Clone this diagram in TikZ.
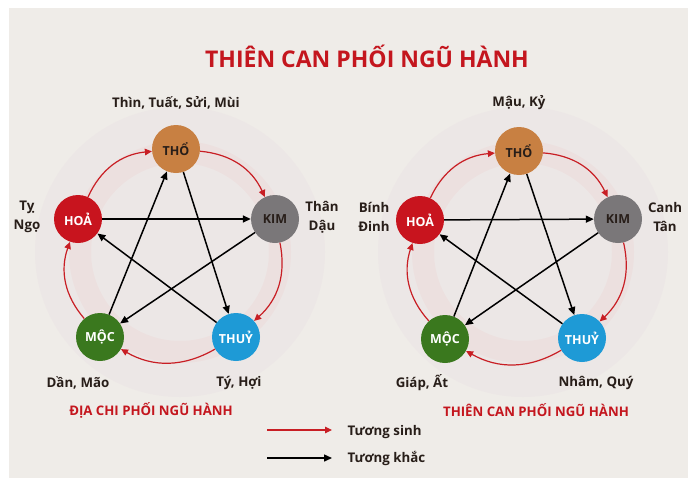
\documentclass[tikz,border=0pt]{standalone}
\usepackage{fontspec}
\setmainfont{Open Sans}
\usepackage{xcolor}
\definecolor{paper}{RGB}{239, 236, 232}
\definecolor{titlered}{RGB}{196, 22, 30}
\definecolor{arrowred}{RGB}{200, 30, 36}
\definecolor{earth}{RGB}{200, 128, 66}
\definecolor{fire}{RGB}{200, 20, 30}
\definecolor{metal}{RGB}{122, 119, 121}
\definecolor{wood}{RGB}{58, 120, 30}
\definecolor{water}{RGB}{30, 154, 214}
\definecolor{darktext}{RGB}{40, 30, 25}
\usepackage{tikz}
\usetikzlibrary{arrows.meta}
\tikzstyle{element} = [shape=circle, minimum size=48pt, inner sep=0pt, font=\fontsize{12.5}{14}\selectfont\bfseries]
\tikzstyle{branch} = [align=center, font=\fontsize{13.3}{19}\selectfont\bfseries, text=darktext]
\tikzstyle{caption} = [font=\fontsize{13.2}{15}\selectfont\bfseries, text=titlered]
\tikzstyle{sinh} = [draw=arrowred, line width=1.2pt, -{Triangle[length=7pt, width=6.5pt]}]
\tikzstyle{khac} = [draw=black, line width=1.5pt, -{Triangle[length=8pt, width=7pt]}]

\begin{document}
\begin{tikzpicture}[x=1pt, y=-1pt]
  \useasboundingbox (0,0) rectangle (700,487);
  \fill[white] (0,0) rectangle (700,487);
  \fill[paper] (9,8) rectangle (688,478);

  % faint watermark rings
  \foreach \cx in {180, 523} {
    \fill[violet!40, opacity=0.06] (\cx,252) circle (145);
    \draw[red!60, opacity=0.05, line width=22pt] (\cx,252) circle (100);
  }

  \node[font=\fontsize{23}{27}\selectfont\bfseries, text=titlered] (title) at (367,56) {THIÊN CAN PHỐI NGŨ HÀNH};

  % left: dia chi
  \node[element, fill=earth, text=darktext] (tho1) at (176,149) {THỔ};
  \node[element, fill=fire, text=white] (hoa1) at (78,219) {HOẢ};
  \node[element, fill=metal, text=darktext] (kim1) at (275,219) {KIM};
  \node[element, fill=wood, text=white] (moc1) at (100,337) {MỘC};
  \node[element, fill=water, text=white] (thuy1) at (236,337) {THUỶ};

  \node[branch] (lb-tho1) at (176,103) {Thìn, Tuất, Sửi, Mùi};
  \node[branch] (lb-hoa1) at (27,217) {Tỵ\\Ngọ};
  \node[branch] (lb-kim1) at (322,217) {Thân\\Dậu};
  \node[branch] (lb-moc1) at (78,383) {Dần, Mão};
  \node[branch] (lb-thuy1) at (239,383) {Tý, Hợi};
  \node[caption] (cap1) at (151,410) {ĐỊA CHI PHỐI NGŨ HÀNH};

  % right: thien can
  \node[element, fill=earth, text=darktext] (tho2) at (519,151) {THỔ};
  \node[element, fill=fire, text=white] (hoa2) at (420,220) {HOẢ};
  \node[element, fill=metal, text=darktext] (kim2) at (618,219) {KIM};
  \node[element, fill=wood, text=white] (moc2) at (445,339) {MỘC};
  \node[element, fill=water, text=white] (thuy2) at (582,338) {THUỶ};

  \node[branch] (lb-tho2) at (519,103) {Mậu, Kỷ};
  \node[branch] (lb-hoa2) at (374,217) {Bính\\Đinh};
  \node[branch] (lb-kim2) at (665,217) {Canh\\Tân};
  \node[branch] (lb-moc2) at (422,383) {Giáp, Ất};
  \node[branch] (lb-thuy2) at (596,383) {Nhâm, Quý};
  \node[caption] (cap2) at (536,410) {THIÊN CAN PHỐI NGŨ HÀNH};

  \foreach \i in {1,2} {
    % tuong sinh
    \draw[sinh] (hoa\i) to[bend left=30] (tho\i);
    \draw[sinh] (tho\i) to[bend left=30] (kim\i);
    \draw[sinh] (kim\i) to[bend left=30] (thuy\i);
    \draw[sinh] (thuy\i) to[bend left=30] (moc\i);
    \draw[sinh] (moc\i) to[bend left=30] (hoa\i);
    % tuong khac
    \draw[khac] (hoa\i) -- (kim\i);
    \draw[khac] (kim\i) -- (moc\i);
    \draw[khac] (moc\i) -- (tho\i);
    \draw[khac] (tho\i) -- (thuy\i);
    \draw[khac] (thuy\i) -- (hoa\i);
  }

  % legend
  \coordinate (sinh-a) at (267,430);
  \coordinate (sinh-b) at (332,430);
  \coordinate (khac-a) at (267,458);
  \coordinate (khac-b) at (332,458);
  \draw[sinh] (sinh-a) -- (sinh-b);
  \draw[khac] (khac-a) -- (khac-b);
  \node[branch, anchor=west] (lg-sinh) at (344,432) {Tương sinh};
  \node[branch, anchor=west] (lg-khac) at (344,458) {Tương khắc};
\end{tikzpicture}
\end{document}
